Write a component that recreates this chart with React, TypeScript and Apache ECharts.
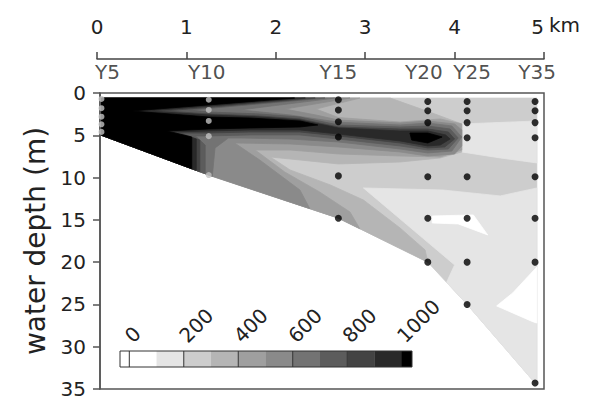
import React, { useEffect, useRef } from 'react';
import * as echarts from 'echarts';

// ---- stations and sample depths ----
const stations = ['Y5', 'Y10', 'Y15', 'Y20', 'Y25', 'Y35'];
const stationKm = [0.05, 1.25, 2.7, 3.7, 4.14, 4.9];
const sampleDepths = [
  [0.7, 1.8, 2.8, 3.7, 4.6],
  [0.8, 2.0, 3.3, 5.1, 9.7],
  [0.8, 2.0, 3.4, 5.2, 9.8, 14.8],
  [1.0, 2.1, 3.5, 5.3, 9.9, 14.8, 20.0],
  [1.0, 2.1, 3.5, 5.3, 9.9, 14.8, 20.0, 25.0],
  [1.0, 2.1, 3.5, 5.3, 9.9, 14.8, 20.0, 34.3],
];
const kmTicks = [0, 1, 2, 3, 4, 5];
const depthMax = 35;

// ---- colour scale (lower bound of each 100-wide class) ----
const classLevels = [0, 100, 200, 300, 400, 500, 600, 700, 800, 900, 1000];
const classColors = ['#ffffff', '#e5e5e5', '#cdcdcd', '#b5b5b5', '#9f9f9f', '#8a8a8a', '#737373', '#5c5c5c', '#434343', '#292929', '#000000'];
const barTickValues = [0, 200, 400, 600, 800, 1000];

// ---- contour regions: [km, depth m] ----
const hullPoly = [[0.05, 0.6], [4.92, 0.6], [4.92, 34.3], [4.9, 34.3], [4.14, 25.0], [3.7, 20.0], [2.7, 14.8], [1.25, 9.7], [0.05, 5.0]];
const lightUpperPoly = [[4.08, 3.66], [4.92, 3.31], [4.92, 8.27], [4.51, 7.68], [4.08, 6.97]];
const lightLowerPoly = [[2.98, 11.23], [3.87, 11.47], [4.51, 12.17], [4.92, 11.23], [4.92, 34.3], [4.9, 34.3], [4.14, 25.0], [3.91, 22.39], [4.0, 20.33]];
const whiteSliverPoly = [[3.75, 14.54], [4.21, 14.42], [4.37, 16.78], [4.04, 15.48], [3.75, 15.37]];
const whiteNotchPoly = [[4.92, 20.57], [4.65, 23.64], [4.47, 25.18], [4.88, 27.07], [4.92, 27.19]];
const poly300 = [[0.05, 0.6], [3.28, 0.6], [3.72, 2.25], [4.08, 3.66], [4.08, 6.97], [3.84, 7.68], [3.39, 8.16], [2.7, 8.39], [2.27, 7.92], [1.94, 7.57], [2.16, 9.1], [2.61, 10.87], [2.98, 12.65], [3.39, 15.96], [3.67, 18.56], [3.7, 20.0], [2.7, 14.8], [1.25, 9.7], [0.05, 5.0]];
const poly400 = [[0.05, 0.6], [2.94, 0.6], [2.45, 1.9], [2.7, 2.9], [3.39, 3.43], [3.84, 3.07], [4.08, 3.66], [4.08, 6.74], [3.84, 7.57], [3.39, 7.45], [2.7, 7.21], [2.16, 6.74], [1.77, 6.74], [2.1, 9.34], [2.49, 11.7], [2.83, 14.07], [2.94, 16.05], [2.7, 14.8], [1.25, 9.7], [0.05, 5.0]];
const poly500 = [[0.05, 0.6], [2.83, 0.6], [2.1, 1.9], [2.45, 2.6], [2.7, 3.2], [3.39, 3.55], [3.7, 3.31], [4.0, 3.66], [4.08, 4.37], [4.08, 6.26], [4.0, 7.21], [3.7, 7.45], [3.39, 6.97], [2.7, 6.38], [2.16, 6.03], [1.54, 5.91], [1.82, 7.92], [2.27, 11.47], [2.38, 13.67], [1.25, 9.7], [0.05, 5.0]];
const poly600 = [[0.05, 0.6], [2.66, 0.6], [1.6, 2.0], [2.16, 2.6], [2.7, 3.45], [3.39, 3.78], [3.7, 3.55], [3.97, 3.9], [4.08, 5.2], [3.97, 6.86], [3.7, 7.09], [3.39, 6.62], [2.7, 5.79], [2.16, 5.44], [1.6, 5.32], [1.47, 5.32], [1.32, 6.5], [1.29, 9.84], [1.25, 9.7], [0.05, 5.0]];
const poly700 = [[0.05, 0.6], [2.55, 0.6], [1.04, 2.01], [1.25, 2.25], [1.82, 2.48], [2.27, 2.84], [2.7, 3.78], [3.39, 4.02], [3.7, 3.9], [3.95, 4.26], [4.04, 5.32], [3.93, 6.62], [3.7, 6.74], [3.39, 6.26], [2.7, 5.44], [2.27, 4.96], [1.71, 4.96], [1.25, 5.08], [1.1, 5.08], [1.21, 6.15], [1.21, 9.54], [0.05, 5.0]];
const poly800 = [[0.05, 0.6], [2.44, 0.6], [0.76, 2.13], [1.25, 2.48], [1.82, 2.72], [2.27, 3.07], [2.7, 4.02], [3.39, 4.26], [3.7, 4.26], [3.93, 4.61], [4.0, 5.44], [3.89, 6.38], [3.7, 6.5], [3.39, 5.91], [2.7, 5.08], [2.27, 4.61], [1.71, 4.61], [1.25, 4.73], [0.93, 4.73], [1.15, 5.56], [1.15, 9.31], [0.05, 5.0]];
const poly900 = [[0.05, 0.6], [2.33, 0.6], [0.57, 2.13], [1.25, 2.6], [1.82, 2.84], [2.27, 3.19], [2.7, 4.14], [3.39, 4.49], [3.7, 4.49], [3.9, 4.96], [3.95, 5.44], [3.84, 6.15], [3.7, 6.26], [3.39, 5.67], [2.7, 4.85], [2.27, 4.37], [1.71, 4.37], [1.25, 4.49], [0.84, 4.61], [1.11, 5.44], [1.11, 9.15], [0.05, 5.0]];
const poly1000 = [[0.05, 0.6], [2.21, 0.6], [0.39, 2.13], [1.25, 2.84], [1.71, 2.96], [2.27, 3.31], [2.47, 3.78], [2.27, 4.02], [1.71, 4.14], [1.25, 4.26], [0.78, 4.49], [1.06, 5.2], [1.06, 8.96], [0.05, 5.0]];
const blob1000 = [[3.5, 4.73], [3.7, 4.73], [3.86, 5.2], [3.7, 5.91], [3.52, 5.56]];

const contourLayers = [
  { level: 200, pts: hullPoly },
  { level: 100, pts: lightUpperPoly },
  { level: 100, pts: lightLowerPoly },
  { level: 0, pts: whiteSliverPoly },
  { level: 0, pts: whiteNotchPoly },
  { level: 300, pts: poly300 },
  { level: 400, pts: poly400 },
  { level: 500, pts: poly500 },
  { level: 600, pts: poly600 },
  { level: 700, pts: poly700 },
  { level: 800, pts: poly800 },
  { level: 900, pts: poly900 },
  { level: 1000, pts: poly1000 },
  { level: 1000, pts: blob1000 },
];

const FONT = 'DejaVu Sans';

function colorFor(level: number): string {
  let idx = 0;
  for (let i = 0; i < classLevels.length; i++) if (level >= classLevels[i]) idx = i;
  return classColors[idx];
}

export default function App() {
  const ref = useRef<HTMLDivElement>(null);
  useEffect(() => {
    const chart = echarts.init(ref.current!, null, { renderer: 'svg' });

    const grayDots: number[][] = [];
    const blackDots: number[][] = [];
    sampleDepths.forEach((ds, i) => {
      ds.forEach((d) => {
        (i < 2 ? grayDots : blackDots).push([stationKm[i], d]);
      });
    });
    const labelOffsets = [6, -2, 0, -4, 5, 2];

    // colour bar (legend) geometry
    const barLeft = 120, barZero = 129.3, barUnit = 0.2724, barTop = 351, barH = 16, barEnd = 412;
    const barEls: any[] = [];
    barEls.push({ type: 'rect', shape: { x: barLeft, y: barTop, width: barZero - barLeft, height: barH }, style: { fill: '#ffffff' } });
    classLevels.slice(0, 10).forEach((lv, i) => {
      barEls.push({ type: 'rect', shape: { x: barZero + lv * barUnit, y: barTop, width: 100 * barUnit + 0.3, height: barH }, style: { fill: classColors[i] } });
    });
    barEls.push({ type: 'rect', shape: { x: barZero + 1000 * barUnit, y: barTop, width: barEnd - (barZero + 1000 * barUnit), height: barH }, style: { fill: '#000000' } });
    barEls.push({ type: 'rect', shape: { x: barLeft, y: barTop, width: barEnd - barLeft, height: barH }, style: { fill: 'none', stroke: '#333', lineWidth: 1 } });
    barTickValues.forEach((v) => {
      const x = barZero + v * barUnit;
      if (v < 1000) barEls.push({ type: 'line', shape: { x1: x, y1: barTop, x2: x, y2: barTop + barH }, style: { stroke: '#333', lineWidth: 1 } });
      barEls.push({
        type: 'text', x: x + 6, y: 346, rotation: Math.PI / 4,
        style: { text: String(v), fontSize: 20, fontFamily: FONT, fill: '#222', textAlign: 'left', textVerticalAlign: 'bottom', align: 'left', verticalAlign: 'bottom' },
      });
    });

    const lastKm = kmTicks[kmTicks.length - 1];
    const option: any = {
      animation: false,
      backgroundColor: '#ffffff',
      textStyle: { fontFamily: FONT },
      grid: [
        { left: 100, top: 93, width: 444, height: 296, show: true, borderColor: '#555', borderWidth: 1.5, backgroundColor: 'transparent' },
        { left: 97, top: 49, width: 447, height: 10, show: false },
      ],
      xAxis: [
        { gridIndex: 0, type: 'value', min: 3 / 89.4, max: 5, show: false },
        {
          gridIndex: 1, type: 'value', position: 'top', min: kmTicks[0], max: lastKm, interval: 1,
          axisLine: { show: true, lineStyle: { color: '#444', width: 1.5 } },
          axisTick: { show: true, length: 7, lineStyle: { color: '#444', width: 1.5 } },
          axisLabel: {
            fontSize: 20, color: '#222', margin: 12,
            formatter: (v: number) => (v === lastKm ? '{r|' + v + '}' : String(v)),
            rich: { r: { fontSize: 20, color: '#222', fontFamily: FONT, padding: [0, 13, 0, 0] } },
          },
          splitLine: { show: false },
        },
      ],
      yAxis: [
        {
          gridIndex: 0, type: 'value', inverse: true, min: 0, max: depthMax, interval: 5,
          name: 'water depth (m)', nameLocation: 'middle', nameGap: 50, nameRotate: 90,
          nameTextStyle: { fontSize: 28, color: '#222' },
          axisLine: { show: true, lineStyle: { color: '#555', width: 1.5 } },
          axisTick: { show: true, length: 7, lineStyle: { color: '#555', width: 1.5 } },
          axisLabel: { fontSize: 20, color: '#222', margin: 14 },
          splitLine: { show: false },
        },
        { gridIndex: 1, type: 'value', show: false },
      ],
      series: [
        {
          type: 'custom', xAxisIndex: 0, yAxisIndex: 0, clip: true,
          data: contourLayers.map((l) => l.pts[0]),
          renderItem: (params: any, api: any) => {
            const layer = contourLayers[params.dataIndex];
            const pts = layer.pts.map((p) => api.coord(p));
            const c = colorFor(layer.level);
            return { type: 'polygon', shape: { points: pts }, style: { fill: c, stroke: c, lineWidth: 0.8 } };
          },
          silent: true,
        },
        {
          type: 'scatter', xAxisIndex: 0, yAxisIndex: 0, data: grayDots, symbolSize: 6,
          itemStyle: { color: '#c2c2c2' }, clip: false, silent: true,
        },
        {
          type: 'scatter', xAxisIndex: 0, yAxisIndex: 0, data: blackDots, symbolSize: 7,
          itemStyle: { color: '#000000' }, clip: false, silent: true,
        },
        {
          type: 'scatter', xAxisIndex: 0, yAxisIndex: 0, symbolSize: 0, clip: false, silent: true,
          data: stations.map((s, i) => ({
            value: [stationKm[i], 0], name: s,
            label: { offset: [labelOffsets[i], 0] },
          })),
          label: { show: true, position: 'top', distance: 11, formatter: (p: any) => p.name, fontSize: 20, color: '#222', fontFamily: FONT },
        },
      ],
      graphic: [
        { type: 'text', left: 549, top: 15, style: { text: 'km', fontSize: 20, fontFamily: FONT, fill: '#222' } },
        { type: 'group', children: barEls },
      ],
    };
    chart.setOption(option);
    return () => chart.dispose();
  }, []);
  return <div ref={ref} style={{ position: 'fixed', left: 0, top: 0, width: 590, height: 400, background: '#fff' }} />;
}
